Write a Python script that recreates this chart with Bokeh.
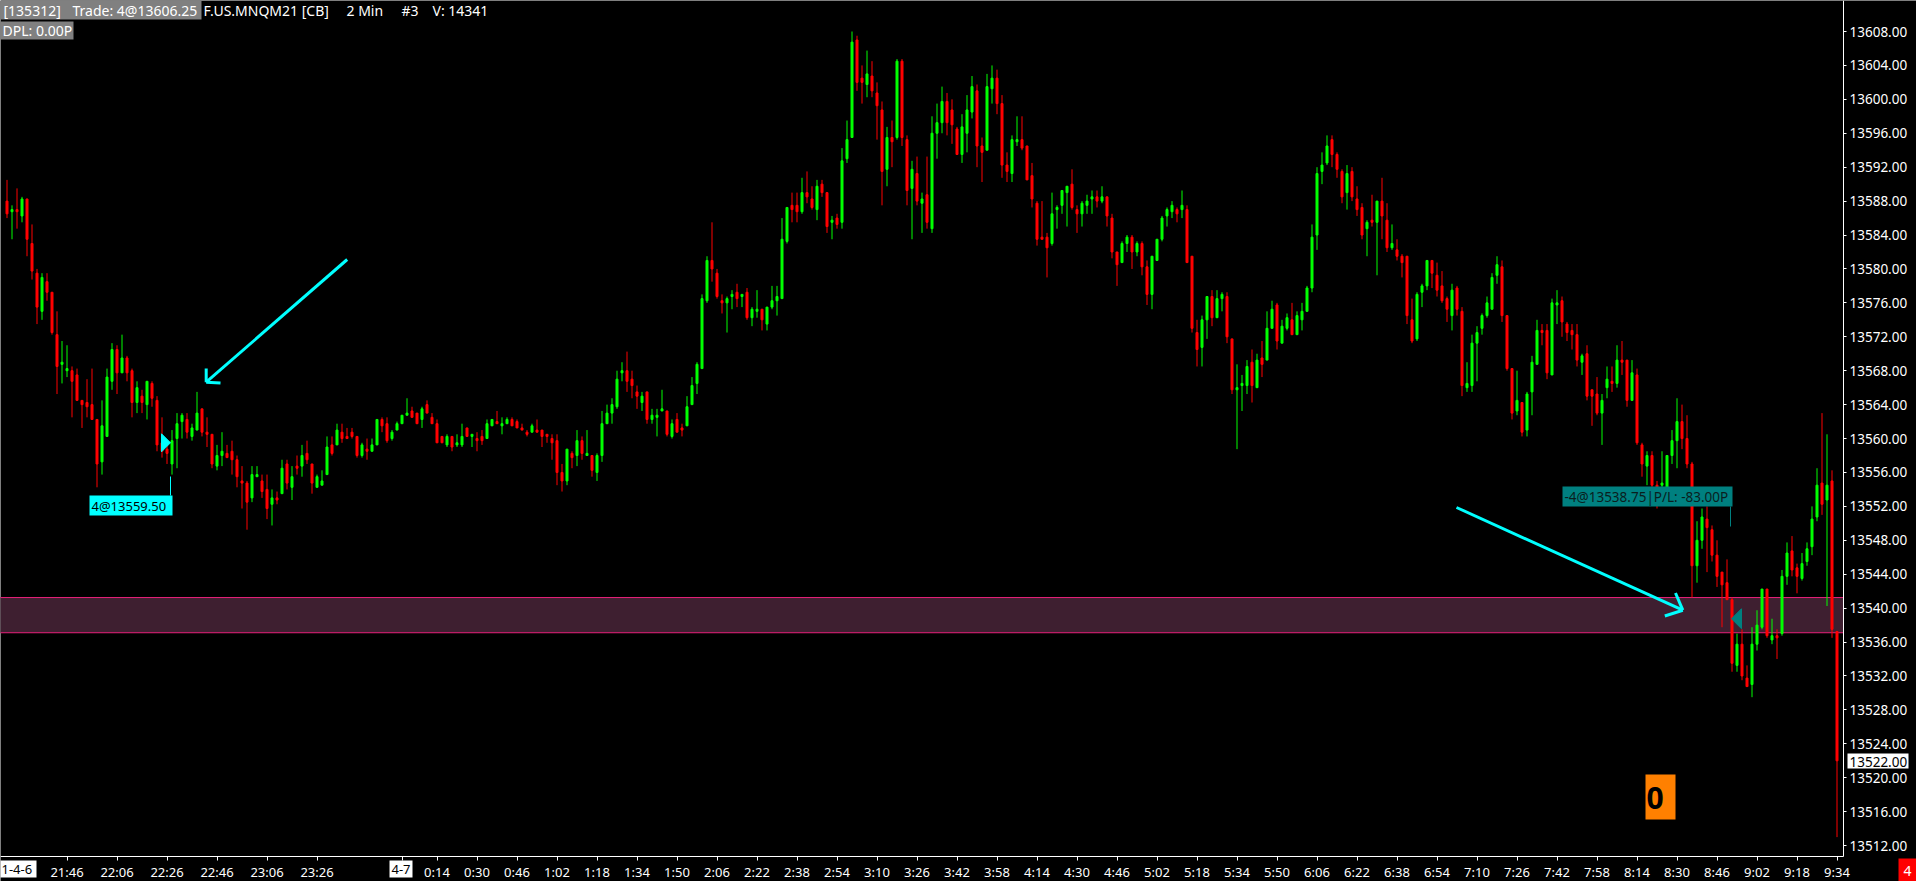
from bokeh.plotting import figure
from bokeh.models import Range1d, FixedTicker, PrintfTickFormatter, LinearAxis, ColumnDataSource
from bokeh.core.properties import value
from bokeh.embed import file_html
from bokeh.resources import INLINE

# ---------------- data (2-minute bars of F.US.MNQM21, bar 0 = 21:22) ----------------
opens = [
    13588.0, 13586.75, 13587.0, 13586.25, 13588.25, 13583.0, 13579.5, 13575.0, 13578.5, 13577.25,
    13572.25, 13568.75, 13568.0, 13568.0, 13567.5, 13564.5, 13564.25, 13564.0, 13562.25, 13557.25,
    13560.25, 13566.75, 13570.5, 13567.75, 13569.5, 13568.0, 13564.25, 13565.0, 13564.0, 13566.5,
    13564.5, 13559.5, 13558.75, 13557.0, 13560.0, 13562.0, 13562.25, 13560.25, 13561.0, 13563.5,
    13560.75, 13560.5, 13556.75, 13558.0, 13558.25, 13558.5, 13557.5, 13555.0, 13554.75, 13553.0,
    13555.5, 13555.0, 13554.0, 13552.25, 13553.0, 13553.5, 13557.0, 13554.25, 13556.75, 13556.75,
    13558.25, 13557.0, 13554.25, 13554.5, 13555.75, 13559.25, 13559.25, 13560.75, 13560.25, 13560.75,
    13560.25, 13558.0, 13558.75, 13558.5, 13559.25, 13562.25, 13561.75, 13560.0, 13561.0, 13561.75,
    13562.75, 13563.25, 13563.0, 13562.25, 13564.0, 13562.5, 13561.75, 13560.25, 13559.25, 13560.25,
    13559.25, 13559.25, 13561.25, 13560.25, 13560.0, 13560.25, 13560.0, 13561.5, 13562.0, 13561.5,
    13561.75, 13562.25, 13562.0, 13561.25, 13560.75, 13560.75, 13561.0, 13561.0, 13560.5, 13560.0,
    13559.75, 13556.0, 13555.0, 13558.25, 13558.0, 13559.75, 13558.0, 13558.0, 13556.0, 13558.0,
    13561.75, 13563.0, 13563.75, 13567.75, 13568.0, 13567.0, 13565.5, 13564.25, 13565.5, 13562.25,
    13562.5, 13563.25, 13563.25, 13560.25, 13562.25, 13561.25, 13561.5, 13564.0, 13566.5, 13568.25,
    13576.25, 13581.0, 13579.5, 13576.25, 13576.0, 13576.75, 13577.25, 13576.75, 13577.25, 13574.25,
    13575.0, 13575.25, 13573.5, 13575.5, 13576.25, 13576.5, 13583.25, 13587.5, 13587.5, 13586.75,
    13589.0, 13588.25, 13587.0, 13590.0, 13589.0, 13585.5, 13586.0, 13585.5, 13593.0, 13595.5,
    13607.0, 13602.5, 13601.75, 13602.75, 13600.75, 13598.75, 13591.75, 13595.5, 13595.5, 13604.5,
    13595.25, 13589.5, 13591.25, 13587.75, 13588.75, 13584.75, 13596.0, 13597.25, 13599.75, 13598.75,
    13596.5, 13593.5, 13596.0, 13598.5, 13601.0, 13594.5, 13594.0, 13601.25, 13602.5, 13599.5,
    13592.25, 13591.25, 13595.0, 13595.25, 13594.5, 13591.0, 13587.75, 13583.75, 13583.75, 13583.0,
    13587.0, 13587.5, 13589.0, 13590.0, 13587.0, 13586.5, 13587.5, 13588.25, 13588.5, 13588.0,
    13588.5, 13586.0, 13582.0, 13580.75, 13583.0, 13583.75, 13582.0, 13583.0, 13580.25, 13577.0,
    13581.0, 13583.5, 13586.25, 13586.75, 13587.0, 13587.0, 13587.0, 13581.5, 13572.5, 13570.75,
    13574.0, 13576.75, 13574.25, 13576.5, 13576.75, 13571.75, 13565.75, 13566.25, 13566.25, 13569.0,
    13566.0, 13569.5, 13569.25, 13573.0, 13575.75, 13571.25, 13573.0, 13574.0, 13572.25, 13574.0,
    13575.0, 13577.75, 13584.0, 13591.5, 13592.5, 13595.25, 13593.5, 13591.5, 13589.0, 13591.5,
    13588.25, 13587.25, 13584.75, 13585.75, 13585.5, 13588.0, 13585.75, 13582.5, 13582.25, 13581.5,
    13581.5, 13574.0, 13571.75, 13577.25, 13578.0, 13581.0, 13579.25, 13578.0, 13576.5, 13574.5,
    13577.75, 13575.0, 13566.0, 13566.25, 13571.25, 13573.0, 13574.5, 13575.25, 13579.25, 13580.25,
    13574.5, 13568.25, 13563.25, 13564.25, 13561.0, 13565.5, 13568.75, 13572.75, 13572.75, 13567.5,
    13575.75, 13576.25, 13573.5, 13572.75, 13572.25, 13569.0, 13570.0, 13565.75, 13565.25, 13563.0,
    13566.0, 13566.75, 13566.5, 13569.25, 13569.25, 13564.5, 13567.5, 13559.25, 13556.75, 13558.0,
    13554.5, 13554.5, 13554.25, 13558.0, 13559.75, 13562.0, 13560.0, 13557.0, 13545.0, 13548.0,
    13550.5, 13549.25, 13546.25, 13544.25, 13543.0, 13541.0, 13533.25, 13535.75, 13531.75, 13531.0,
    13535.75, 13537.75, 13542.25, 13536.25, 13536.75, 13537.0, 13543.75, 13546.75, 13544.75, 13543.5,
    13545.5, 13547.25, 13550.75, 13554.75, 13552.75, 13555.0, 13537.25,
]
highs = [
    13590.5, 13587.5, 13589.5, 13588.5, 13588.25, 13585.25, 13580.0, 13579.5, 13579.5, 13577.25,
    13575.0, 13571.5, 13571.0, 13568.5, 13568.25, 13564.5, 13567.0, 13568.25, 13562.25, 13564.5,
    13568.25, 13571.25, 13571.0, 13572.25, 13569.75, 13568.25, 13566.75, 13565.75, 13566.75, 13566.75,
    13565.0, 13562.5, 13559.5, 13561.0, 13563.0, 13563.0, 13563.0, 13561.75, 13565.5, 13563.5,
    13562.5, 13560.5, 13559.25, 13560.75, 13559.25, 13559.75, 13558.0, 13556.75, 13555.0, 13556.75,
    13556.75, 13555.75, 13555.75, 13554.0, 13553.75, 13557.5, 13557.5, 13556.75, 13558.0, 13559.25,
    13559.75, 13557.0, 13555.75, 13556.25, 13560.25, 13560.25, 13561.75, 13561.75, 13561.25, 13561.25,
    13560.25, 13559.5, 13560.0, 13560.0, 13562.25, 13562.5, 13562.5, 13561.0, 13562.0, 13562.75,
    13564.75, 13563.75, 13563.0, 13563.75, 13564.5, 13563.0, 13562.25, 13560.25, 13560.5, 13560.25,
    13560.5, 13561.75, 13561.25, 13560.5, 13560.75, 13561.0, 13562.25, 13562.25, 13563.25, 13562.5,
    13562.5, 13562.5, 13562.25, 13561.75, 13561.0, 13561.75, 13562.25, 13561.0, 13560.5, 13560.5,
    13560.5, 13557.0, 13558.75, 13558.5, 13561.0, 13560.25, 13561.0, 13558.0, 13558.25, 13563.25,
    13564.0, 13564.75, 13568.0, 13569.0, 13570.25, 13568.0, 13566.25, 13565.5, 13565.5, 13563.5,
    13563.5, 13565.75, 13563.25, 13562.25, 13563.0, 13561.75, 13565.0, 13567.25, 13569.0, 13577.0,
    13581.5, 13585.5, 13580.0, 13577.0, 13576.75, 13577.5, 13578.25, 13577.0, 13577.75, 13575.5,
    13577.5, 13575.25, 13575.5, 13578.0, 13578.0, 13586.0, 13587.25, 13589.0, 13589.0, 13590.75,
    13591.5, 13589.75, 13590.5, 13590.5, 13589.0, 13586.25, 13586.5, 13594.25, 13597.5, 13608.0,
    13607.5, 13604.0, 13605.75, 13604.5, 13602.0, 13599.75, 13596.75, 13597.5, 13604.75, 13604.75,
    13595.75, 13592.75, 13593.25, 13589.0, 13593.25, 13598.0, 13599.5, 13601.5, 13600.75, 13600.0,
    13596.75, 13598.25, 13600.5, 13602.75, 13601.75, 13595.5, 13603.0, 13604.0, 13603.5, 13600.5,
    13593.75, 13595.75, 13598.0, 13598.0, 13594.5, 13592.5, 13588.0, 13588.0, 13584.25, 13589.0,
    13587.5, 13589.25, 13589.75, 13591.75, 13587.5, 13588.0, 13588.75, 13589.25, 13589.25, 13589.75,
    13588.5, 13586.5, 13582.0, 13583.25, 13584.0, 13584.0, 13583.25, 13583.25, 13581.0, 13581.5,
    13583.5, 13586.25, 13587.25, 13588.0, 13587.25, 13589.25, 13587.5, 13581.5, 13574.0, 13574.5,
    13576.75, 13577.5, 13577.5, 13577.25, 13577.25, 13571.75, 13568.75, 13567.5, 13569.25, 13570.5,
    13570.0, 13571.5, 13575.0, 13576.25, 13576.0, 13574.0, 13574.75, 13576.0, 13575.0, 13576.0,
    13578.0, 13585.25, 13592.0, 13593.75, 13595.75, 13595.75, 13593.75, 13591.75, 13592.25, 13592.0,
    13589.75, 13587.75, 13585.75, 13588.75, 13588.0, 13590.75, 13587.75, 13585.25, 13583.5, 13581.75,
    13581.5, 13576.5, 13577.25, 13578.25, 13581.0, 13581.0, 13580.75, 13579.75, 13576.75, 13578.25,
    13578.0, 13575.5, 13569.0, 13572.25, 13573.25, 13574.75, 13576.75, 13579.5, 13581.5, 13581.0,
    13574.5, 13568.25, 13568.0, 13564.25, 13565.5, 13569.75, 13574.0, 13573.5, 13573.5, 13576.5,
    13577.5, 13576.75, 13573.75, 13573.5, 13573.5, 13570.0, 13571.0, 13565.75, 13567.25, 13565.25,
    13568.5, 13568.5, 13571.0, 13571.5, 13569.25, 13569.25, 13568.25, 13559.5, 13558.5, 13558.5,
    13555.0, 13558.5, 13558.0, 13561.0, 13564.75, 13564.0, 13562.75, 13557.25, 13550.25, 13551.75,
    13552.0, 13549.75, 13548.0, 13544.25, 13545.75, 13541.25, 13537.0, 13537.5, 13533.25, 13537.75,
    13539.75, 13542.25, 13542.25, 13538.75, 13537.5, 13544.5, 13547.75, 13548.5, 13545.25, 13546.5,
    13547.75, 13552.0, 13556.5, 13563.0, 13560.5, 13556.25, 13537.25,
]
lows = [
    13586.0, 13583.5, 13584.75, 13585.5, 13581.5, 13578.75, 13573.5, 13574.0, 13576.25, 13572.25,
    13565.25, 13566.5, 13567.25, 13562.5, 13564.5, 13561.25, 13562.5, 13562.25, 13554.25, 13555.75,
    13560.25, 13565.75, 13565.25, 13567.75, 13566.75, 13562.5, 13563.0, 13563.0, 13562.25, 13563.75,
    13558.5, 13557.75, 13557.0, 13555.75, 13556.5, 13560.0, 13560.0, 13559.75, 13561.0, 13560.25,
    13559.0, 13556.5, 13556.25, 13556.75, 13557.75, 13555.75, 13554.25, 13551.75, 13549.25, 13552.5,
    13555.5, 13553.0, 13550.5, 13549.75, 13552.25, 13553.5, 13554.0, 13552.75, 13555.75, 13555.5,
    13557.0, 13553.5, 13554.25, 13554.5, 13555.75, 13558.0, 13559.25, 13559.5, 13560.0, 13560.0,
    13557.75, 13557.75, 13557.5, 13558.5, 13559.25, 13560.75, 13559.5, 13559.75, 13561.0, 13561.75,
    13562.75, 13562.5, 13561.75, 13561.25, 13563.0, 13561.75, 13559.5, 13559.5, 13559.0, 13558.5,
    13559.0, 13559.0, 13560.25, 13559.0, 13558.5, 13559.25, 13560.0, 13561.5, 13561.75, 13560.5,
    13561.75, 13561.5, 13561.25, 13561.0, 13560.25, 13560.75, 13560.75, 13559.0, 13559.5, 13557.5,
    13554.5, 13553.75, 13554.5, 13556.5, 13556.75, 13557.5, 13558.0, 13555.5, 13555.0, 13557.25,
    13561.75, 13561.75, 13563.5, 13566.75, 13565.5, 13564.75, 13563.5, 13563.25, 13561.75, 13561.75,
    13560.25, 13563.25, 13560.25, 13560.0, 13560.75, 13560.25, 13561.5, 13564.0, 13565.25, 13568.25,
    13576.0, 13578.5, 13576.5, 13574.75, 13572.5, 13575.25, 13575.5, 13575.5, 13574.0, 13573.25,
    13574.25, 13572.75, 13572.75, 13575.25, 13574.5, 13576.5, 13583.0, 13585.5, 13585.5, 13586.5,
    13587.75, 13587.0, 13585.75, 13588.5, 13584.25, 13583.5, 13584.75, 13584.75, 13592.5, 13595.5,
    13601.0, 13599.5, 13600.25, 13600.25, 13595.25, 13587.5, 13589.75, 13592.0, 13595.25, 13594.5,
    13587.5, 13583.5, 13587.5, 13584.25, 13584.75, 13584.25, 13593.0, 13596.0, 13595.75, 13594.75,
    13593.5, 13592.5, 13593.75, 13597.75, 13592.0, 13590.25, 13594.0, 13599.5, 13598.25, 13590.75,
    13590.25, 13590.25, 13594.5, 13594.0, 13590.5, 13587.25, 13582.75, 13583.5, 13579.0, 13582.75,
    13584.75, 13586.5, 13585.0, 13587.0, 13584.25, 13585.0, 13586.5, 13586.5, 13587.25, 13587.75,
    13585.0, 13581.25, 13578.0, 13580.75, 13582.0, 13580.0, 13581.5, 13579.25, 13575.75, 13575.25,
    13581.0, 13583.25, 13585.0, 13586.0, 13585.5, 13586.0, 13580.75, 13572.5, 13568.5, 13568.5,
    13571.75, 13573.25, 13574.25, 13575.0, 13571.25, 13565.25, 13558.75, 13563.25, 13565.25, 13564.25,
    13566.0, 13567.25, 13569.25, 13573.0, 13570.5, 13571.25, 13572.75, 13572.25, 13572.25, 13572.75,
    13575.0, 13577.25, 13582.25, 13590.0, 13592.25, 13592.0, 13590.75, 13587.75, 13587.0, 13588.0,
    13586.25, 13583.5, 13581.5, 13585.0, 13579.25, 13583.5, 13582.0, 13582.25, 13581.0, 13579.0,
    13573.5, 13571.25, 13571.5, 13575.5, 13577.5, 13577.75, 13576.75, 13576.0, 13573.75, 13572.75,
    13574.5, 13565.0, 13565.5, 13565.5, 13566.75, 13572.25, 13574.25, 13575.25, 13578.25, 13573.75,
    13568.0, 13562.25, 13562.75, 13560.25, 13560.25, 13562.75, 13568.75, 13571.0, 13567.0, 13567.5,
    13573.5, 13572.0, 13571.5, 13570.5, 13568.5, 13567.5, 13564.5, 13561.5, 13562.75, 13559.25,
    13564.75, 13565.5, 13566.0, 13567.5, 13563.75, 13564.5, 13559.25, 13555.5, 13554.5, 13552.75,
    13551.75, 13553.5, 13554.25, 13557.0, 13556.5, 13558.75, 13556.5, 13541.25, 13543.0, 13547.0,
    13544.25, 13545.5, 13542.5, 13537.75, 13541.0, 13532.5, 13532.5, 13531.5, 13530.75, 13529.5,
    13535.0, 13537.5, 13536.5, 13535.75, 13534.0, 13536.75, 13542.75, 13543.75, 13541.75, 13543.25,
    13545.0, 13546.25, 13550.25, 13551.0, 13540.25, 13536.5, 13513.0,
]
closes = [
    13586.5, 13587.0, 13586.75, 13588.25, 13583.5, 13579.75, 13575.5, 13579.0, 13577.25, 13572.5,
    13568.5, 13569.0, 13568.25, 13566.75, 13564.5, 13564.0, 13563.75, 13562.25, 13557.0, 13561.5,
    13567.25, 13570.5, 13567.75, 13569.5, 13567.75, 13564.25, 13566.0, 13564.25, 13566.75, 13564.75,
    13559.25, 13558.5, 13558.25, 13559.75, 13561.75, 13562.75, 13560.75, 13561.25, 13563.0, 13560.75,
    13560.5, 13557.0, 13558.0, 13558.5, 13557.75, 13557.5, 13555.5, 13554.75, 13552.5, 13555.75,
    13555.75, 13553.75, 13551.75, 13553.0, 13552.75, 13556.5, 13554.75, 13555.5, 13556.5, 13558.0,
    13557.5, 13554.75, 13555.5, 13555.0, 13559.0, 13558.25, 13561.0, 13560.0, 13560.0, 13560.25,
    13558.0, 13559.25, 13558.5, 13559.25, 13562.25, 13561.5, 13559.75, 13560.75, 13561.75, 13562.75,
    13563.0, 13562.5, 13561.75, 13563.5, 13563.0, 13561.75, 13559.5, 13559.5, 13560.25, 13559.0,
    13559.5, 13560.25, 13560.25, 13560.5, 13559.75, 13559.75, 13561.75, 13562.25, 13561.75, 13561.75,
    13562.25, 13561.5, 13561.25, 13561.0, 13560.5, 13561.5, 13560.75, 13560.25, 13560.25, 13559.5,
    13556.0, 13555.0, 13558.75, 13557.75, 13559.75, 13558.25, 13558.25, 13556.25, 13558.0, 13561.75,
    13563.0, 13564.0, 13567.0, 13568.0, 13566.75, 13566.25, 13565.0, 13565.0, 13562.25, 13562.75,
    13562.75, 13563.5, 13560.5, 13561.75, 13560.75, 13561.0, 13563.75, 13566.25, 13568.75, 13576.5,
    13581.0, 13580.0, 13576.75, 13576.0, 13576.5, 13577.0, 13576.5, 13577.0, 13574.25, 13575.25,
    13575.25, 13574.0, 13575.5, 13576.25, 13576.75, 13583.5, 13587.25, 13587.0, 13586.75, 13589.0,
    13588.5, 13587.25, 13589.75, 13589.0, 13585.0, 13585.75, 13585.25, 13592.75, 13595.25, 13606.75,
    13602.0, 13602.0, 13603.0, 13601.0, 13599.25, 13591.5, 13595.5, 13595.0, 13604.5, 13595.5,
    13589.25, 13591.75, 13588.0, 13588.25, 13585.5, 13596.0, 13597.25, 13599.75, 13597.25, 13597.0,
    13593.5, 13596.75, 13598.75, 13601.5, 13594.5, 13593.75, 13601.5, 13602.5, 13599.5, 13592.25,
    13591.5, 13595.25, 13595.25, 13594.25, 13590.5, 13588.25, 13583.5, 13583.5, 13582.5, 13586.5,
    13587.25, 13589.25, 13589.75, 13587.25, 13586.5, 13587.75, 13588.0, 13588.5, 13588.0, 13588.5,
    13586.25, 13582.0, 13580.5, 13583.0, 13583.75, 13582.0, 13583.0, 13580.25, 13577.0, 13581.5,
    13583.5, 13586.0, 13587.0, 13587.5, 13586.5, 13587.5, 13580.75, 13573.0, 13570.5, 13574.0,
    13576.75, 13574.25, 13576.5, 13577.0, 13572.0, 13565.75, 13566.0, 13566.5, 13568.5, 13566.25,
    13569.25, 13568.75, 13573.0, 13575.25, 13571.5, 13573.25, 13574.25, 13572.25, 13574.5, 13575.0,
    13577.75, 13583.75, 13591.25, 13592.25, 13594.5, 13593.5, 13591.75, 13588.5, 13591.25, 13588.5,
    13587.0, 13584.0, 13585.5, 13585.5, 13588.0, 13586.25, 13582.5, 13583.0, 13581.5, 13580.75,
    13574.5, 13571.5, 13577.0, 13578.0, 13581.0, 13579.5, 13577.5, 13576.25, 13575.25, 13577.5,
    13575.25, 13566.25, 13566.5, 13571.25, 13572.5, 13574.5, 13576.0, 13579.0, 13580.5, 13574.5,
    13568.25, 13563.0, 13564.5, 13560.75, 13565.25, 13569.0, 13572.75, 13572.5, 13567.75, 13576.0,
    13576.0, 13573.75, 13572.5, 13572.25, 13569.25, 13569.75, 13565.0, 13565.0, 13563.0, 13564.5,
    13567.0, 13566.5, 13569.25, 13569.0, 13564.5, 13567.75, 13559.5, 13557.0, 13558.0, 13554.5,
    13554.25, 13554.75, 13558.0, 13559.75, 13562.0, 13560.0, 13557.0, 13545.0, 13548.0, 13550.75,
    13549.5, 13546.25, 13543.75, 13542.75, 13541.0, 13533.5, 13535.75, 13532.0, 13530.75, 13535.75,
    13538.0, 13542.25, 13536.75, 13536.75, 13536.5, 13543.75, 13546.5, 13544.5, 13543.75, 13545.25,
    13547.0, 13550.5, 13554.5, 13552.25, 13554.5, 13537.5, 13522.0,
]

tick_bars = [12, 22, 32, 42, 52, 62, 79, 86, 94, 102, 110, 118, 126, 134, 142, 150, 158, 166,
             174, 182, 190, 198, 206, 214, 222, 230, 238, 246, 254, 262, 270, 278, 286, 294,
             302, 310, 318, 326, 334, 342, 350, 358, 366]
tick_labels = ["21:46", "22:06", "22:26", "22:46", "23:06", "23:26", "4-7", "0:14", "0:30",
               "0:46", "1:02", "1:18", "1:34", "1:50", "2:06", "2:22", "2:38", "2:54", "3:10",
               "3:26", "3:42", "3:58", "4:14", "4:30", "4:46", "5:02", "5:18", "5:34", "5:50",
               "6:06", "6:22", "6:38", "6:54", "7:10", "7:26", "7:42", "7:58", "8:14", "8:30",
               "8:46", "9:02", "9:18", "9:34"]
date_labels = ["1-4-6", "4-7"]
price_ticks = [13512, 13516, 13520, 13524, 13528, 13532, 13536, 13540, 13544, 13548, 13552,
               13556, 13560, 13564, 13568, 13572, 13576, 13580, 13584, 13588, 13592, 13596,
               13600, 13604, 13608]

entry_bar, entry_price, entry_qty = 31, 13559.50, 4
exit_bar, exit_price, exit_qty, pnl = 345, 13538.75, -4, -83.00
last_price = 13522.00
zone_low, zone_high = 13537.1, 13541.25

# ---------------- geometry helpers (reference pixels -> data) ----------------
X_LEFT = -1.3           # bar b is centred on pixel column 6 + 5*b
P_TOP = 13611.656
PX_PER_BAR, PX_PER_PT = 5.0, 8.48
W, H = 1916, 881


def X(px):
    return X_LEFT + px / PX_PER_BAR


def Y(py):
    return P_TOP - py / PX_PER_PT


FONT = "Noto Sans"
GREEN, RED = "#00ff00", "#ff0000"
CYAN, TEAL = "#00ffff", "#008080"

p = figure(width=W, height=H, x_range=Range1d(X(0), X(W)),
           y_range=Range1d(Y(H), Y(0)), x_axis_location=None, y_axis_location=None,
           toolbar_location=None, output_backend="svg",
           background_fill_color="black", border_fill_color="black",
           outline_line_color=None, min_border=0)
p.grid.visible = False

# time axis (drawn at the bottom edge of the price pane)
xa = LinearAxis(fixed_location=Y(856), bounds=(X(0), X(1843)))
xa.ticker = FixedTicker(ticks=tick_bars)
xa.major_label_overrides = {b: ("" if l in date_labels else l) for b, l in zip(tick_bars, tick_labels)}
xa.axis_line_color = "white"
xa.major_tick_line_color = "white"
xa.major_tick_out = 4
xa.major_tick_in = 0
xa.minor_tick_line_color = None
xa.major_label_text_color = "white"
xa.major_label_text_font = FONT
xa.major_label_text_font_size = "13px"
xa.major_label_standoff = 2
p.add_layout(xa, "below")

# price axis (drawn at the right edge of the price pane)
ya = LinearAxis(fixed_location=X(1843), bounds=(Y(856), Y(0)))
ya.ticker = FixedTicker(ticks=price_ticks)
ya.formatter = PrintfTickFormatter(format="%.2f")
ya.axis_line_color = "white"
ya.major_tick_line_color = "white"
ya.major_tick_out = 3
ya.major_tick_in = 0
ya.minor_tick_line_color = None
ya.major_label_text_color = "white"
ya.major_label_text_font = FONT
ya.major_label_text_font_size = "13.5px"
ya.major_label_standoff = 3
p.add_layout(ya, "right")

# support/resistance zone
p.quad(left=X(-5), right=X(1843), bottom=zone_low, top=zone_high,
       fill_color="#3e1f30", line_color="#e8207a", line_width=1)

# candles
n = min(len(opens), len(highs), len(lows), len(closes))
xs = list(range(n))
cols = [GREEN if closes[i] >= opens[i] else RED for i in xs]
src = ColumnDataSource(dict(
    x=xs, high=highs[:n], low=lows[:n],
    top=[max(opens[i], closes[i]) for i in xs],
    bottom=[min(opens[i], closes[i]) for i in xs],
    color=cols))
p.segment(x0="x", y0="low", x1="x", y1="high", color="color", line_width=1, source=src)
p.vbar(x="x", width=0.4, top="top", bottom="bottom", fill_color="color",
       line_color="color", line_width=1, source=src)

# cyan arrows
p.line([X(346.7), X(205.7)], [Y(259), Y(381.7)], line_color=CYAN, line_width=3)
p.multi_line([[X(205.7), X(205.7)], [X(205.7), X(220)]],
             [[Y(381.7), Y(368)], [Y(381.7), Y(382.5)]], line_color=CYAN, line_width=3)
p.line([X(1456), X(1682.3)], [Y(507), Y(609.7)], line_color=CYAN, line_width=3)
p.multi_line([[X(1682.3), X(1675)], [X(1682.3), X(1664.3)]],
             [[Y(609.7), Y(592.5)], [Y(609.7), Y(615.5)]], line_color=CYAN, line_width=3)

# entry marker + label
p.patch([X(161), X(161), X(170)],
        [entry_price + 9 / PX_PER_PT, entry_price - 9 / PX_PER_PT, entry_price],
        fill_color=CYAN, line_color=CYAN)
p.segment(x0=[X(170)], y0=[Y(476)], x1=[X(170)], y1=[Y(495)], line_color=CYAN, line_width=1)
p.quad(left=[X(89)], right=[X(172)], top=[Y(495)], bottom=[Y(515)], fill_color=CYAN, line_color=None)
p.text(x=[X(91)], y=[Y(505.5)], text=[f"{entry_qty}@{entry_price:.2f}"], text_color="black",
       text_font=value(FONT), text_font_size=value("13px"), text_baseline="middle", text_align="left")

# exit marker + label
p.patch([X(1731), X(1741), X(1741)],
        [exit_price, exit_price + 10 / PX_PER_PT, exit_price - 10 / PX_PER_PT],
        fill_color=TEAL, line_color=TEAL)
p.segment(x0=[X(1730)], y0=[Y(506)], x1=[X(1730)], y1=[Y(526)], line_color=TEAL, line_width=1)
p.quad(left=[X(1562)], right=[X(1732)], top=[Y(486)], bottom=[Y(506)], fill_color=TEAL, line_color=None)
p.text(x=[X(1564)], y=[Y(496.5)], text=[f"{exit_qty}@{exit_price:.2f}|P/L: {pnl:.2f}P"],
       text_color="#0a1e1e", text_font=value(FONT), text_font_size=value("13.5px"),
       text_baseline="middle", text_align="left")

# orange position box
p.quad(left=[X(1645)], right=[X(1675)], top=[Y(774)], bottom=[Y(819)], fill_color="#ff8000", line_color=None)
p.text(x=[X(1646)], y=[Y(797)], text=["0"], text_color="black", text_font=value(FONT),
       text_font_size=value("30px"), text_font_style="bold", text_baseline="middle", text_align="left")

# header
p.quad(left=[X(0)], right=[X(201)], top=[Y(0)], bottom=[Y(19)], fill_color="#808080", line_color=None)
p.quad(left=[X(0)], right=[X(73)], top=[Y(21)], bottom=[Y(39)], fill_color="#808080", line_color=None)
header_items = [(3, 10, "[135312]"), (72, 10, "Trade: 4@13606.25"), (203, 10, "F.US.MNQM21 [CB]"),
                (346, 10, "2 Min"), (401, 10, "#3"), (432, 10, "V: 14341"), (2, 30, "DPL: 0.00P")]
for hx, hy, ht in header_items:
    p.text(x=[X(hx)], y=[Y(hy)], text=[ht], text_color="white", text_font=value(FONT),
           text_font_size=value("14px"), text_baseline="middle", text_align="left")

# boxed labels in the axis areas (drawn above the axes)
boxes = [
    # left, right, top, bottom (ref px), fill, text, text colour, text x, align, size
    (0, 36, 860, 877, "white", date_labels[0], "black", 1, "left", "13px"),
    (389, 412, 860, 877, "white", date_labels[1], "black", 400.5, "center", "13px"),
    (1847, 1908, 753, 768, "white", f"{last_price:.2f}", "black", 1849, "left", "13.5px"),
    (1898, 1916, 858, 881, "#ff0000", "4", "white", 1907, "center", "14px"),
]
for l, r, t, b, fill, txt, tcol, tx, al, fs in boxes:
    q = p.quad(left=[X(l)], right=[X(r)], top=[Y(t)], bottom=[Y(b)], fill_color=fill, line_color=None)
    q.level = "annotation"
    tt = p.text(x=[X(tx)], y=[Y((t + b) / 2 + 0.5)], text=[txt], text_color=tcol,
                text_font=value(FONT), text_font_size=value(fs),
                text_baseline="middle", text_align=al)
    tt.level = "annotation"

open("out.html", "w").write(file_html(p, INLINE))
